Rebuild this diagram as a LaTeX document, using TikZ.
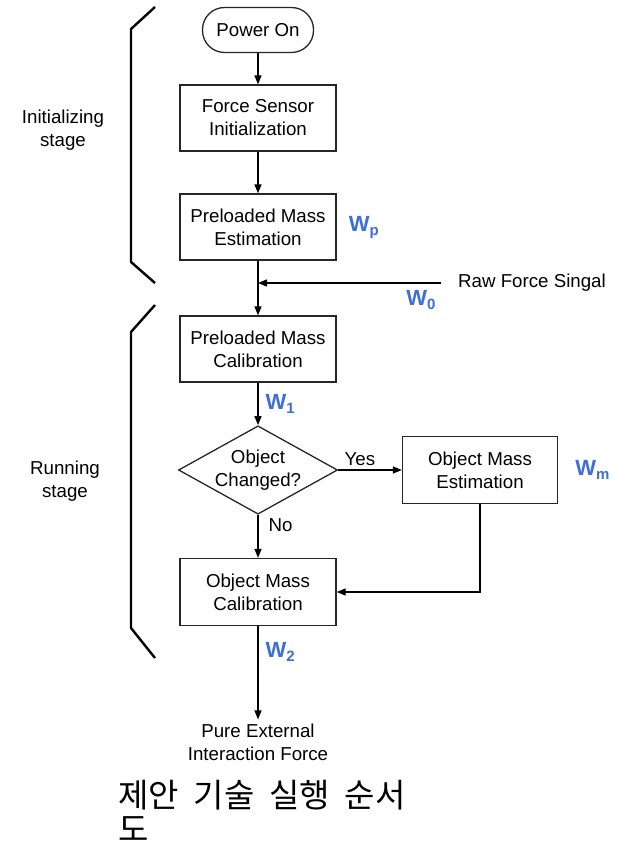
\documentclass[tikz,border=0pt]{standalone}
\usepackage{fontspec}
\setmainfont{Liberation Sans}
\newfontfamily\krfont[WordSpace=2]{Noto Sans CJK KR}
\usetikzlibrary{arrows.meta,positioning,shapes.geometric}
\definecolor{wblue}{RGB}{62,110,215}
\newcommand{\wsym}[1]{{\fontsize{22}{22}\selectfont\bfseries W}\raisebox{-4pt}{\fontsize{15}{15}\selectfont\bfseries #1}}

\begin{document}
\begin{tikzpicture}[x=1pt,y=-1pt,
    font=\fontsize{18.7}{23}\selectfont,
    block/.style={draw=black!85,line width=1.3pt,minimum width=156pt,minimum height=66pt,inner sep=0pt,align=center},
    lbl/.style={inner sep=0pt,align=center},
    wlab/.style={inner sep=0pt,text=wblue},
    arr/.style={line width=1.3pt,-{Triangle[length=9pt,width=7pt]}},
    brace/.style={line width=2.4pt}]
    \useasboundingbox (0,0) rectangle (616,845);

    % main column
    \node[draw=black!85,line width=1.3pt,rounded corners=22pt,minimum width=111pt,minimum height=45pt,inner sep=0pt] (power) at (258,30) {Power On};
    \node[block] (fsi) at (258,118) {Force Sensor\\Initialization};
    \node[block] (pme) at (258,227) {Preloaded Mass\\Estimation};
    \node[block] (pmc) at (258,349) {Preloaded Mass\\Calibration};
    \node[draw=black!85,line width=1.3pt,diamond,shape aspect=1.8,inner sep=0pt,minimum width=155pt,minimum height=86pt,align=center] (chg) at (258,470) {Object\\Changed?};
    \node[block,minimum width=155pt,minimum height=67pt] (ome) at (480,470) {Object Mass\\Estimation};
    \node[block,minimum height=67pt] (omc) at (258,592) {Object Mass\\Calibration};
    \node[lbl,inner sep=4pt] (pure) at (258,742) {Pure External\\Interaction Force};
    \node[lbl,anchor=west] (raw) at (458,283) {Raw Force Singal};

    % stages
    \node[lbl] (init) at (63,130) {Initializing\\stage};
    \node[lbl] (run) at (65,481) {Running\\stage};
    \draw[brace] (155,7) -- (131,29) -- (131,262) -- (155,283);
    \draw[brace] (155,305) -- (131,332) -- (131,628) -- (155,658);

    % weights
    \node[wlab,right=12pt of pme.east] (wp) {\wsym{p}};
    \node[wlab,right=17pt of ome.east] (wm) {\wsym{m}};

    \draw[arr] (power) -- (fsi);
    \draw[arr] (fsi) -- (pme);
    \draw[arr] (pme) -- (pmc);
    \draw[arr] ([xshift=-17pt]raw.west) -- node[wlab,below=7pt,pos=0.11] (w0) {\wsym{0}} (raw.west -| pme.south);
    \draw[arr] (pmc) -- node[wlab,right=7pt,midway] (w1) {\wsym{1}} (chg);
    \draw[arr] (chg) -- node[lbl,above=4pt,pos=0.34] (yes) {Yes} (ome);
    \draw[arr] (chg) -- node[lbl,right=10pt,pos=0.24] (no) {No} (omc);
    \draw[arr] (ome.south) |- (omc.east);
    \draw[arr] (omc) -- node[wlab,right=7pt,pos=0.28] (w2) {\wsym{2}} (pure);

    % caption
    \node[anchor=north west,align=left,inner sep=0pt,font=\krfont\fontsize{33}{34}\selectfont] (cap) at (118,780) {제안 기술 실행 순서\\도};
\end{tikzpicture}
\end{document}
